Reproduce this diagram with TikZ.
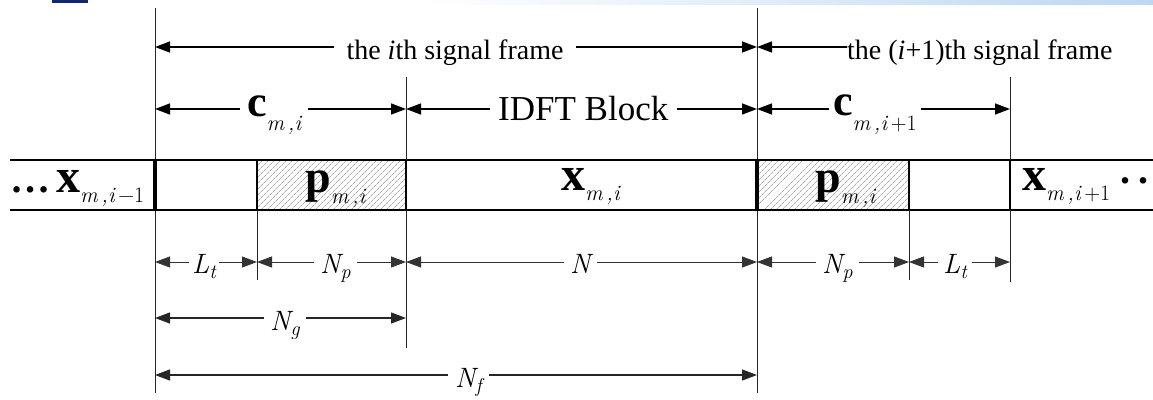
\documentclass[tikz,border=0pt]{standalone}
\usepackage{fontspec}
\setmainfont{Liberation Serif}
\newfontfamily\tnr{Liberation Serif}
\newfontfamily\lmr{Latin Modern Roman}
\usetikzlibrary{arrows.meta,patterns.meta}
\definecolor{slideblue}{RGB}{20,40,100}
\definecolor{lightband}{RGB}{190,215,240}
\newcommand\subx[2]{\raisebox{-#1}{\lmr\itshape\fontsize{22}{22}\selectfont #2}}
\newcommand\bsym[2]{{\tnr\bfseries\fontsize{#1}{#1}\selectfont #2}}
\newcommand\itl[2]{{\lmr\itshape\fontsize{28}{28}\selectfont #1}\raisebox{-5pt}{\lmr\itshape\fontsize{20}{20}\selectfont #2}}
\tikzset{
  barline/.style={line width=2pt},
  divthick/.style={line width=4pt},
  divthin/.style={line width=2pt},
  guide/.style={line width=1pt, draw=black!85},
  half/.style={line width=1.4pt, -{Triangle[length=15pt,width=11pt]}},
  halfthin/.style={line width=0.9pt, draw=black!80, -{Triangle[length=15pt,width=11pt]}},
  halfmid/.style={line width=1.2pt, draw=black!85, -{Triangle[length=15pt,width=11pt]}},
  lbl/.style={inner ysep=0pt, anchor=base west, font=\tnr},
  hatch/.style={pattern={Lines[angle=45,distance=4pt,line width=0.8pt]}, pattern color=gray!65}
}
\begin{document}
\begin{tikzpicture}[x=1pt,y=-1pt]
\useasboundingbox (0,0) rectangle (1153,399);
% slide artifacts at top
\fill[slideblue] (52,0) rectangle (88,3);
\shade[left color=white, right color=lightband] (420,0) rectangle (1153,4);
% boundaries and rows
\coordinate (b1) at (155,0);
\coordinate (b2) at (257,0);
\coordinate (b3) at (406,0);
\coordinate (b4) at (757,0);
\coordinate (b5) at (909,0);
\coordinate (b6) at (1010,0);
\coordinate (r1) at (0,47);
\coordinate (r2) at (0,109);
\coordinate (r3) at (0,262);
\coordinate (r4) at (0,318);
\coordinate (r5) at (0,375);
% hatched boxes
\fill[hatch] (257,160) rectangle (406,210);
\fill[hatch] (757,160) rectangle (909,210);
% bar
\draw[barline] (10,160) -- (1153,160);
\draw[barline] (10,210) -- (1153,210);
% guides
\draw[guide] (155,8) -- (155,393);
\draw[guide] (757,8) -- (757,393);
\draw[guide] (406,77) -- (406,348);
\draw[guide] (1010,77) -- (1010,282);
\draw[guide] (257,160) -- (257,280);
\draw[guide] (909,160) -- (909,280);
\draw[divthick] (155,159) -- (155,211);
\draw[divthick] (757,159) -- (757,211);
\draw[divthin] (257,160) -- (257,210);
\draw[divthin] (406,160) -- (406,210);
\draw[divthin] (909,160) -- (909,210);
\draw[divthin] (1010,160) -- (1010,210);
% bar labels
\node[lbl, inner xsep=0pt] (xl) at (10,192) {\bsym{40}{…}\hspace{6pt}\bsym{48}{x}\subx{10pt}{m\,,i\,{\upshape −1}}};
\node[lbl, inner xsep=0pt] (pl) at (305,192) {\bsym{46}{p}\subx{11pt}{m\,,i}};
\node[lbl, inner xsep=0pt] (xm) at (561,190) {\bsym{48}{x}\subx{10pt}{m\,,i}};
\node[lbl, inner xsep=0pt] (pr) at (815,192) {\bsym{46}{p}\subx{11pt}{m\,,i}};
\node[lbl, inner xsep=0pt] (xr) at (1022,190) {\bsym{48}{x}\subx{10pt}{m\,,i\,{\upshape +1}}};
\node[lbl, inner xsep=0pt] (dots) at (1120,183) {\bsym{40}{.\hspace{8pt}.}};
% row 1
\node[lbl, inner xsep=12pt, anchor=base] (t1) at (455,59) {\fontsize{28}{28}\selectfont the \textit{i}th signal frame};
\draw[half] (t1.west |- r1) -- (b1 |- r1);
\draw[half] (t1.east |- r1) -- (b4 |- r1);
\node[lbl, inner xsep=0pt] (t2) at (847,59) {\fontsize{28}{28}\selectfont the (\textit{i}+1)th signal frame};
\draw[half] (t2.west |- r1) -- (b4 |- r1);
% row 2
\node[lbl, inner xsep=7pt] (c1) at (240,116) {\bsym{44}{c}\subx{14pt}{m\,,i}};
\draw[half] (c1.west |- r2) -- (b1 |- r2);
\draw[half] (c1.east |- r2) -- (b3 |- r2);
\node[lbl, inner xsep=8pt] (idft) at (490,120) {\fontsize{35}{35}\selectfont IDFT Block};
\draw[half] (idft.west |- r2) -- (b3 |- r2);
\draw[half] (idft.east |- r2) -- (b4 |- r2);
\node[lbl, inner xsep=4pt] (c2) at (829,115) {\bsym{44}{c}\subx{15pt}{m\,,i\,{\upshape +1}}};
\draw[half] (c2.west |- r2) -- (b4 |- r2);
\draw[half] (c2.east |- r2) -- (b6 |- r2);
% row 3
\node[lbl, inner xsep=3pt] (lt1) at (189,273) {\itl{L}{t}};
\draw[halfthin] (lt1.west |- r3) -- (b1 |- r3);
\draw[halfthin] (lt1.east |- r3) -- (b2 |- r3);
\node[lbl, inner xsep=6pt] (np1) at (314,273) {\itl{N}{p}};
\draw[halfthin] (np1.west |- r3) -- (b2 |- r3);
\draw[halfthin] (np1.east |- r3) -- (b3 |- r3);
\node[lbl, inner xsep=6pt] (n) at (564,273) {\itl{N}{}};
\draw[halfthin] (n.west |- r3) -- (b3 |- r3);
\draw[halfthin] (n.east |- r3) -- (b4 |- r3);
\node[lbl, inner xsep=6pt] (np2) at (816,273) {\itl{N}{p}};
\draw[halfthin] (np2.west |- r3) -- (b4 |- r3);
\draw[halfthin] (np2.east |- r3) -- (b5 |- r3);
\node[lbl, inner xsep=5pt] (lt2) at (938,273) {\itl{L}{t}};
\draw[halfthin] (lt2.west |- r3) -- (b5 |- r3);
\draw[halfthin] (lt2.east |- r3) -- (b6 |- r3);
% row 4
\node[lbl, inner xsep=6pt] (ng) at (264,330) {\itl{N}{g}};
\draw[halfmid] (ng.west |- r4) -- (b1 |- r4);
\draw[halfmid] (ng.east |- r4) -- (b3 |- r4);
% row 5
\node[lbl, inner xsep=7pt] (nf) at (448,387) {\itl{N}{f}};
\draw[halfmid] (nf.west |- r5) -- (b1 |- r5);
\draw[halfmid] (nf.east |- r5) -- (b4 |- r5);
\end{tikzpicture}
\end{document}
